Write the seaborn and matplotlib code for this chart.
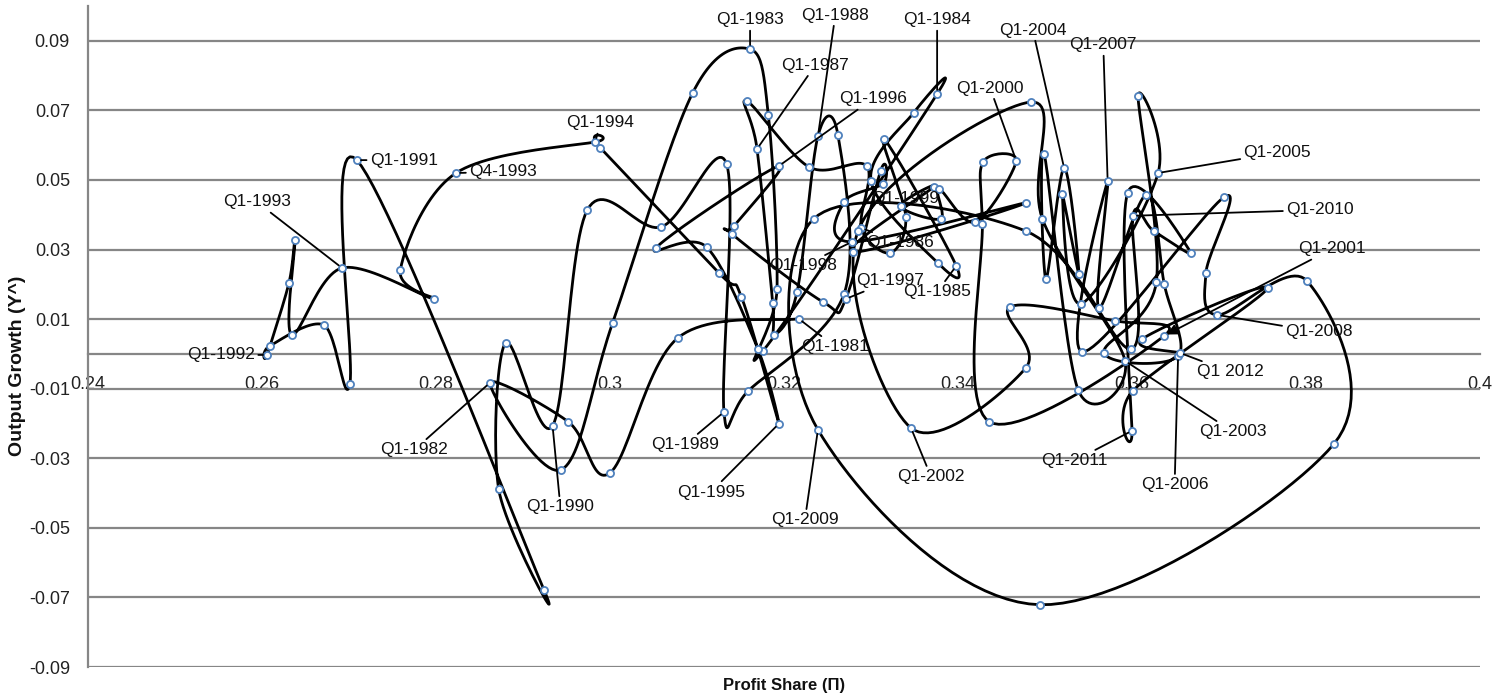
import numpy as np
import pandas as pd
import matplotlib
matplotlib.use("Agg")
import matplotlib.pyplot as plt
import seaborn as sns
from matplotlib import font_manager

# Quarterly profit share vs output growth, Q1-1981 .. Q1-2012
profit_share = [
    0.3217, 0.3078, 0.3000, 0.2952,  # 1981
    0.2862, 0.2944, 0.3003, 0.3095,  # 1982
    0.3161, 0.3182, 0.3192, 0.3176,  # 1983
    0.3376, 0.3349, 0.3300, 0.3377,  # 1984
    0.3398, 0.3315, 0.3340, 0.3322,  # 1985
    0.3289, 0.3295, 0.3229, 0.3157,  # 1986
    0.3169, 0.3187, 0.3189, 0.3215,  # 1987
    0.3239, 0.3262, 0.3269, 0.3159,  # 1988
    0.3131, 0.3134, 0.3059, 0.2974,  # 1989
    0.2934, 0.2880, 0.2872, 0.2924,  # 1990
    0.2709, 0.2701, 0.2671, 0.2609,  # 1991
    0.2606, 0.2631, 0.2638, 0.2634,  # 1992
    0.2692, 0.2798, 0.2759, 0.2823,  # 1993
    0.2983, 0.2989, 0.3125, 0.3151,  # 1994
    0.3194, 0.3170, 0.3111, 0.3053,  # 1995
    0.3194, 0.3143, 0.3140, 0.3245,  # 1996
    0.3271, 0.3311, 0.3314, 0.3269,  # 1997
    0.3278, 0.3478, 0.3279, 0.3372,  # 1998
    0.3334, 0.3380, 0.3378, 0.3420,  # 1999
    0.3467, 0.3429, 0.3428, 0.3436,  # 2000
    0.3637, 0.3580, 0.3460, 0.3478,  # 2001
    0.3346, 0.3285, 0.3484, 0.3497,  # 2002
    0.3592, 0.3538, 0.3499, 0.3501,  # 2003
    0.3522, 0.3539, 0.3520, 0.3541,  # 2004
    0.3630, 0.3607, 0.3628, 0.3568,  # 2005
    0.3653, 0.3637, 0.3616, 0.3562,  # 2006
    0.3572, 0.3543, 0.3706, 0.3685,  # 2007
    0.3698, 0.3801, 0.3832, 0.3494,  # 2008
    0.3239, 0.3234, 0.3478, 0.3599,  # 2009
    0.3601, 0.3625, 0.3668, 0.3595,  # 2010
    0.3600, 0.3601, 0.3756, 0.3612,  # 2011
    0.3655,                          # 2012
]

output_growth = [
    0.0101, 0.0046, -0.0342, -0.0195,
    -0.0083, -0.0333, 0.0089, 0.0750,
    0.0876, 0.0687, 0.0187, 0.0009,
    0.0747, 0.0693, 0.0497, 0.0261,
    0.0253, 0.0618, 0.0394, 0.0290,
    0.0362, 0.0540, 0.0537, 0.0727,
    0.0589, 0.0147, 0.0055, 0.0178,
    0.0626, 0.0629, 0.0172, -0.0106,
    -0.0167, 0.0546, 0.0365, 0.0414,
    -0.0207, 0.0032, -0.0388, -0.0678,
    0.0557, -0.0086, 0.0083, 0.0023,
    -0.0003, 0.0204, 0.0328, 0.0055,
    0.0247, 0.0158, 0.0241, 0.0520,
    0.0609, 0.0592, 0.0233, 0.0164,
    -0.0201, 0.0014, 0.0307, 0.0305,
    0.0540, 0.0368, 0.0345, 0.0149,
    0.0158, 0.0526, 0.0489, 0.0437,
    0.0322, 0.0434, 0.0293, 0.0480,
    0.0425, 0.0388, 0.0474, 0.0379,
    0.0555, 0.0552, 0.0374, -0.0195,
    0.0052, 0.0095, 0.0135, -0.0040,
    -0.0213, 0.0353, 0.0724, 0.0388,
    -0.0020, -0.0103, 0.0575, 0.0216,
    0.0534, 0.0230, 0.0460, 0.0144,
    0.0520, 0.0741, 0.0207, 0.0003,
    -0.0006, 0.0201, 0.0457, 0.0132,
    0.0497, 0.0006, 0.0451, 0.0233,
    0.0112, 0.0210, -0.0259, -0.0721,
    -0.0218, 0.0388, 0.0353, 0.0014,
    0.0397, 0.0353, 0.0290, 0.0463,
    -0.0221, -0.0106, 0.0190, 0.0043,
    0.0003,
]

quarters = [f"Q{q}-{y}" for y in range(1981, 2012) for q in range(1, 5)] + ["Q1-2012"]

x_ticks = [0.24, 0.26, 0.28, 0.30, 0.32, 0.34, 0.36, 0.38, 0.40]
x_tick_labels = ["0.24", "0.26", "0.28", "0.3", "0.32", "0.34", "0.36", "0.38", "0.4"]
y_ticks = [0.09, 0.07, 0.05, 0.03, 0.01, -0.01, -0.03, -0.05, -0.07, -0.09]
y_tick_labels = ["0.09", "0.07", "0.05", "0.03", "0.01", "-0.01", "-0.03", "-0.05", "-0.07", "-0.09"]

# annotated quarters: (quarter, shown text, text x, text y)
labels = [
    ("Q1-1981", "Q1-1981", 0.3259, 0.0020),
    ("Q1-1982", "Q1-1982", 0.2775, -0.0276),
    ("Q1-1983", "Q1-1983", 0.3161, 0.0960),
    ("Q1-1984", "Q1-1984", 0.3376, 0.0960),
    ("Q1-1985", "Q1-1985", 0.3376, 0.0178),
    ("Q1-1986", "Q1-1986", 0.3333, 0.0319),
    ("Q1-1987", "Q1-1987", 0.3236, 0.0830),
    ("Q1-1988", "Q1-1988", 0.3259, 0.0974),
    ("Q1-1989", "Q1-1989", 0.3086, -0.0261),
    ("Q1-1990", "Q1-1990", 0.2943, -0.0440),
    ("Q1-1991", "Q1-1991", 0.2763, 0.0557),
    ("Q1-1992", "Q1-1992", 0.2553, -0.0003),
    ("Q1-1993", "Q1-1993", 0.2594, 0.0437),
    ("Q4-1993", "Q4-1993", 0.2877, 0.0523),
    ("Q1-1994", "Q1-1994", 0.2989, 0.0664),
    ("Q1-1995", "Q1-1995", 0.3116, -0.0397),
    ("Q1-1996", "Q1-1996", 0.3302, 0.0733),
    ("Q1-1997", "Q1-1997", 0.3322, 0.0210),
    ("Q1-1998", "Q1-1998", 0.3222, 0.0253),
    ("Q1-1999", "Q1-1999", 0.3339, 0.0448),
    ("Q1-2000", "Q1-2000", 0.3437, 0.0764),
    ("Q1-2001", "Q1-2001", 0.3830, 0.0302),
    ("Q1-2002", "Q1-2002", 0.3369, -0.0353),
    ("Q1-2003", "Q1-2003", 0.3716, -0.0224),
    ("Q1-2004", "Q1-2004", 0.3486, 0.0931),
    ("Q1-2005", "Q1-2005", 0.3767, 0.0578),
    ("Q1-2006", "Q1-2006", 0.3649, -0.0376),
    ("Q1-2007", "Q1-2007", 0.3567, 0.0888),
    ("Q1-2008", "Q1-2008", 0.3815, 0.0063),
    ("Q1-2009", "Q1-2009", 0.3224, -0.0477),
    ("Q1-2010", "Q1-2010", 0.3816, 0.0414),
    ("Q1-2011", "Q1-2011", 0.3534, -0.0307),
    ("Q1-2012", "Q1 2012", 0.3713, -0.0052),
]

df = pd.DataFrame({"quarter": quarters, "profit_share": profit_share, "output_growth": output_growth})


def pick_font(names):
    for n in names:
        try:
            font_manager.findfont(n, fallback_to_default=False)
            return n
        except ValueError:
            pass
    return "DejaVu Sans"


def smooth_path(xs, ys, n=24):
    # Catmull-Rom spline through the points, like the smoothed line of the source chart
    pts = np.column_stack([xs, ys])
    p = np.vstack([pts[0], pts, pts[-1]])
    t = np.linspace(0, 1, n, endpoint=False)[:, None]
    out = []
    for i in range(1, len(p) - 2):
        p0, p1, p2, p3 = p[i - 1], p[i], p[i + 1], p[i + 2]
        seg = 0.5 * (2 * p1 + (-p0 + p2) * t + (2 * p0 - 5 * p1 + 4 * p2 - p3) * t ** 2
                     + (-p0 + 3 * p1 - 3 * p2 + p3) * t ** 3)
        out.append(seg)
    out.append(pts[-1:])
    res = np.vstack(out)
    return res[:, 0], res[:, 1]


sns.set_theme(style="white")
main_font = pick_font(["Liberation Sans", "DejaVu Sans"])
plt.rcParams["font.family"] = [main_font, "DejaVu Sans"]

fig = plt.figure(figsize=(15.03, 7.0), dpi=100)
ax = fig.add_axes([88 / 1503, 33 / 700, 1392 / 1503, 661 / 700])

sx, sy = smooth_path(df["profit_share"].values, df["output_growth"].values)
sns.lineplot(x=sx, y=sy, sort=False, estimator=None, color="black", linewidth=2.0, ax=ax, zorder=3)
sns.scatterplot(data=df, x="profit_share", y="output_growth", marker="o", s=26,
                facecolor="white", edgecolor="#4F81BD", linewidth=1.3, ax=ax, zorder=4)

grid_c = "#868686"
ax.set_xlim(0.24, 0.40)
ax.set_ylim(-0.09, 0.10)
ax.set_xticks(x_ticks)
ax.set_xticklabels(x_tick_labels)
ax.set_yticks(y_ticks)
ax.set_yticklabels(y_tick_labels)
ax.tick_params(axis="both", length=0, labelsize=13, colors="#222222")
ax.tick_params(axis="x", pad=16)
ax.tick_params(axis="y", pad=13)
ax.yaxis.grid(True, color=grid_c, linewidth=1.6, zorder=0)
ax.xaxis.grid(False)
ax.set_axisbelow(True)
for side in ["top", "right"]:
    ax.spines[side].set_visible(False)
ax.spines["bottom"].set_position(("data", 0))
ax.spines["bottom"].set_color(grid_c)
ax.spines["bottom"].set_linewidth(1.6)
ax.spines["left"].set_color(grid_c)
ax.spines["left"].set_linewidth(1.6)

ax.set_xlabel("Profit Share (Π)", fontsize=12, fontweight="bold", color="#111111")
ax.xaxis.set_label_coords(0.5, -0.0166)
ax.set_ylabel("Output Growth (Y^)", fontsize=14, fontweight="bold", color="#111111")
ax.yaxis.set_label_coords(-0.0445, 0.455)

pos = dict(zip(df["quarter"], zip(df["profit_share"], df["output_growth"])))
for q, txt, tx, ty in labels:
    px, py = pos[q]
    if q == "Q1-1999":
        props = None
    elif q == "Q1-2001":
        props = dict(arrowstyle="-|>", color="black", lw=1.3, mutation_scale=16,
                     shrinkA=0, shrinkB=2)
    else:
        props = dict(arrowstyle="-", color="black", lw=1.3, shrinkA=0, shrinkB=3)
    ax.annotate(txt, xy=(px, py), xytext=(tx, ty), textcoords="data",
                ha="center", va="center", fontsize=12.5, color="#111111",
                arrowprops=props, zorder=5, annotation_clip=False)

fig.savefig("out.png", dpi=100)
